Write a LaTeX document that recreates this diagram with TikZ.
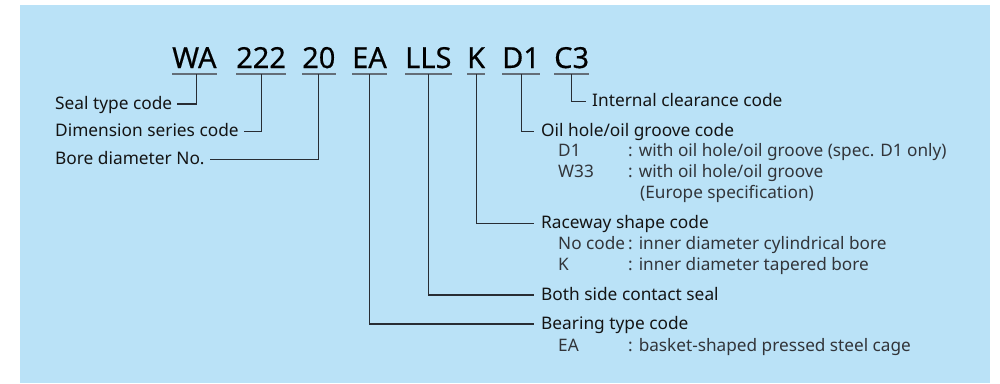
\documentclass[tikz,border=0pt]{standalone}
\usepackage{fontspec}
\setmainfont{Noto Sans}
\newfontfamily\codefont[FakeBold=0.4]{Noto Sans}
\definecolor{bg}{RGB}{186,226,247}
\definecolor{uln}{RGB}{100,110,120}
\definecolor{cln}{RGB}{40,45,52}
\definecolor{labtxt}{RGB}{20,20,20}
\definecolor{subtxt}{RGB}{50,53,58}
\begin{document}
\begin{tikzpicture}[x=1pt,y=-1pt,
  code/.style={inner sep=0pt, anchor=base west, font=\codefont\fontsize{29}{32}\selectfont, text depth=6pt, text=black},
  uline/.style={line width=2pt, draw=uln},
  conn/.style={line width=1.1pt, draw=cln},
  lab/.style={inner sep=0pt, anchor=west, font=\fontsize{17.3}{20}\selectfont, text height=10pt, text depth=0pt, text=labtxt},
  sublab/.style={inner sep=0pt, anchor=west, font=\fontsize{17.2}{20}\selectfont, text height=10.5pt, text depth=0pt, text=subtxt}]
\useasboundingbox (0,0) rectangle (1000,383);
\fill[bg] (20,5) rectangle (990,383);
% codes
\node[code] (WA) at (172,68) {WA};
\node[code] (n222) at (236,68) {222};
\node[code] (n20) at (302,68) {20};
\node[code] (EA) at (352,68) {EA};
\node[code] (LLS) at (405,68) {LLS};
\node[code] (K) at (467,68) {K};
\node[code] (D1) at (502,68) {D1};
\node[code] (C3) at (554,68) {C3};
\foreach \n in {WA,n222,n20,EA,LLS,K,D1,C3}{
  \draw[uline] (\n.south west) -- (\n.south east);
}
% left labels
\node[lab] (seal) at (55,104) {Seal type code};
\node[lab] (dim) at (55,131.7) {Dimension series code};
\node[lab] (bore) at (55,159.3) {Bore diameter No.};
% right labels
\node[lab] (intc) at (592,101.7) {Internal clearance code};
\node[lab] (oil) at (541,131.7) {Oil hole/oil groove code};
\node[lab] (race) at (541,223.3) {Raceway shape code};
\node[lab] (both) at (541,295) {Both side contact seal};
\node[lab] (bear) at (541,324) {Bearing type code};
% sub items
\node[sublab] (d1k) at (558,151.7) {D1};
\node[sublab] (d1t) at (628,151.7) {: with oil hole/oil groove (spec. D1 only)};
\node[sublab] (w33k) at (558,172.7) {W33};
\node[sublab] (w33t) at (628,172.7) {: with oil hole/oil groove};
\node[sublab] (w33e) at (640,193) {(Europe specification)};
\node[sublab] (nck) at (558,244) {No code};
\node[sublab] (nct) at (628,244) {: inner diameter cylindrical bore};
\node[sublab] (kk) at (558,265) {K};
\node[sublab] (kt) at (628,265) {: inner diameter tapered bore};
\node[sublab] (eak) at (558,346) {EA};
\node[sublab] (eat) at (628,346) {: basket-shaped pressed steel cage};
% connectors
\draw[conn] ([xshift=2.5pt]WA.south) |- ([xshift=5pt]seal.east);
\draw[conn] (n222.south) |- ([xshift=5pt]dim.east);
\draw[conn] (n20.south) |- ([xshift=5pt]bore.east);
\draw[conn] (EA.south) |- ([xshift=-7pt]bear.west);
\draw[conn] (LLS.south) |- ([xshift=-7pt]both.west);
\draw[conn] (K.south) |- ([xshift=-7pt]race.west);
\draw[conn] (D1.south) |- ([xshift=-7pt]oil.west);
\draw[conn] (C3.south) |- ([xshift=-6pt]intc.west);
\end{tikzpicture}
\end{document}
